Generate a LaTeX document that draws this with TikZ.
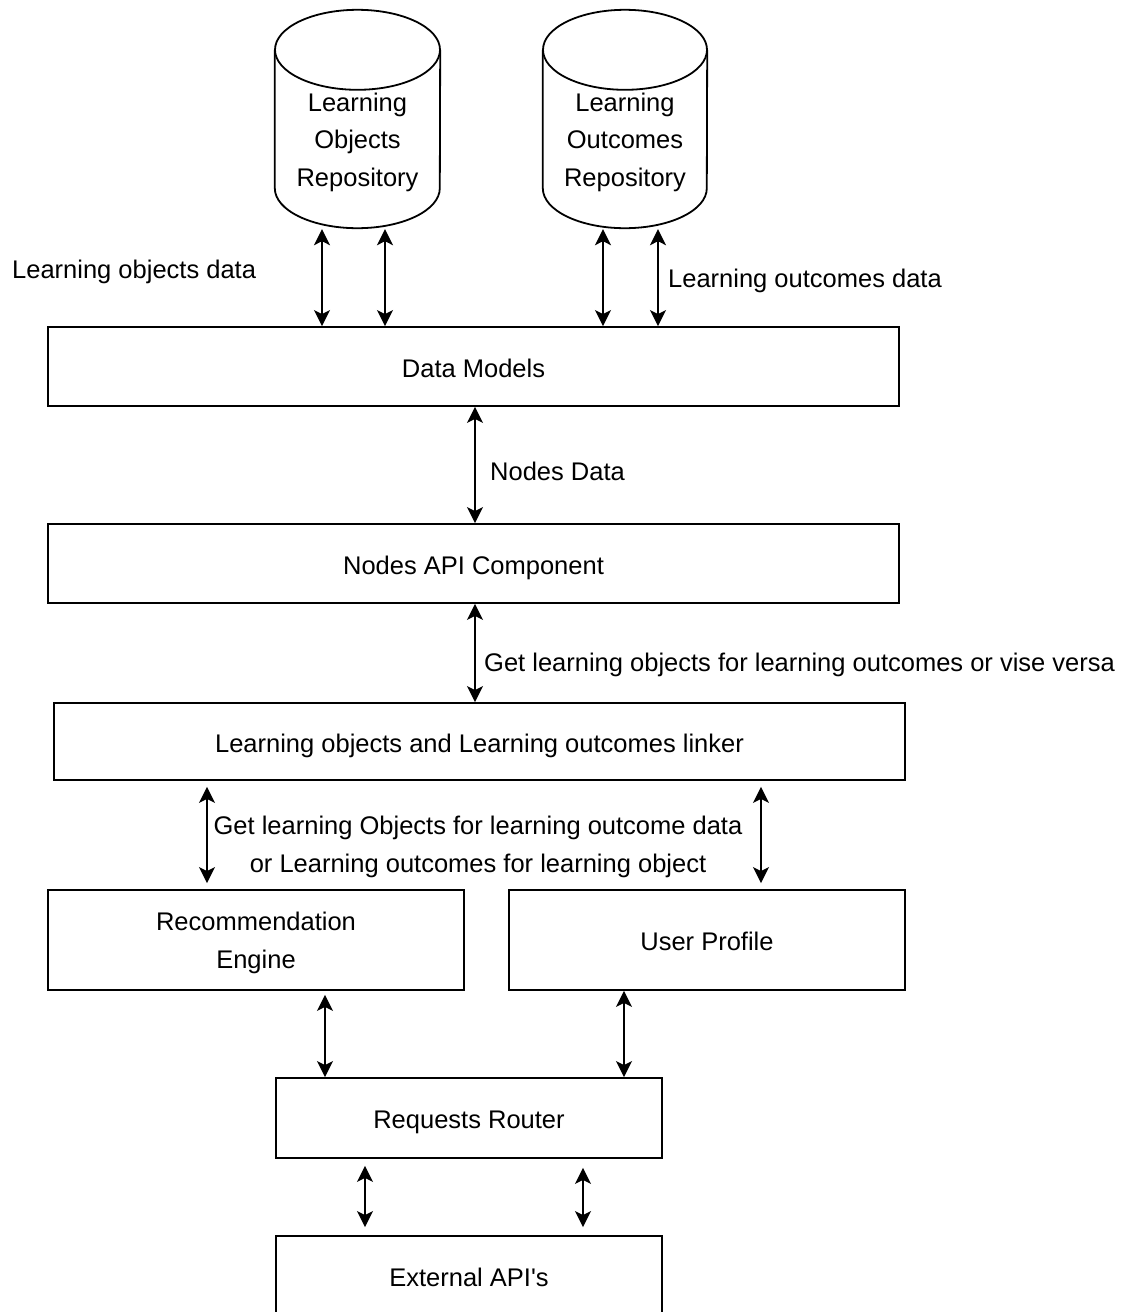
\documentclass[tikz,border=0pt]{standalone}
\usepackage{fontspec}
\setmainfont{Liberation Sans}
\usetikzlibrary{arrows.meta,calc}
\begin{document}
\begin{tikzpicture}[x=1pt,y=-1pt,
  font=\fontsize{25.5}{37.5}\selectfont,
  frame/.style={draw, line width=1.8pt, rectangle, inner sep=0pt, align=center},
  box/.style={frame, text height=23pt, text depth=2pt},
  cylbox/.style={rectangle, inner sep=0pt},
  cylline/.style={line width=1.8pt},
  lbl/.style={inner sep=0pt, align=center},
  biarrow/.style={{Stealth[length=16pt,width=16pt,inset=4pt]}-{Stealth[length=16pt,width=16pt,inset=4pt]}, line width=1.8pt}
]
\clip (0,0) rectangle (1128,1312);
\fill[white] (0,0) rectangle (1128,1312);

% repositories (cylinders)
\node[cylbox, minimum width=165pt, minimum height=218pt] (lor) at (357.5,119) {};
\node[lbl] (lortext) at ([yshift=-23pt]lor.center) {Learning\\Objects\\Repository};
\draw[cylline] ([yshift=-40pt]lor.north west) -- ([yshift=40pt]lor.south west)
  arc[start angle=180, end angle=360, x radius=82.5pt, y radius=40pt]
  -- ([yshift=-40pt]lor.north east);
\draw[cylline] ([yshift=-40pt]lor.north) ellipse[x radius=82.5pt, y radius=40pt];

\node[cylbox, minimum width=164pt, minimum height=218pt] (loc) at (625,119) {};
\node[lbl] (loctext) at ([yshift=-23pt]loc.center) {Learning\\Outcomes\\Repository};
\draw[cylline] ([yshift=-40pt]loc.north west) -- ([yshift=40pt]loc.south west)
  arc[start angle=180, end angle=360, x radius=82pt, y radius=40pt]
  -- ([yshift=-40pt]loc.north east);
\draw[cylline] ([yshift=-40pt]loc.north) ellipse[x radius=82pt, y radius=40pt];

% boxes
\node[box, minimum width=851pt, minimum height=79pt] (dm) at (473.5,366.5) {Data Models};
\node[box, minimum width=851pt, minimum height=79pt] (napi) at (473.5,563.5) {Nodes API Component};
\node[box, minimum width=851pt, minimum height=77pt] (linker) at (479.5,741.5) {Learning objects and Learning outcomes linker};
\node[frame, minimum width=416pt, minimum height=100pt] (rec) at (256,940) {};
\node[lbl] (rectext) at ([yshift=-3pt]rec.center) {Recommendation\\Engine};
\node[box, minimum width=396pt, minimum height=100pt] (up) at (707,940) {User Profile};
\node[box, minimum width=386pt, minimum height=80pt] (rr) at (469,1118) {Requests Router};
\node[box, minimum width=386pt, minimum height=80pt] (ext) at (469,1276) {External API\textquotesingle s};

% vertical guides for the connectors
\coordinate (g1) at (322,0);
\coordinate (g2) at (385,0);
\coordinate (g3) at (603,0);
\coordinate (g4) at (658,0);
\coordinate (g5) at (475,0);
\coordinate (g6) at (207,0);
\coordinate (g7) at (761,0);
\coordinate (g8) at (325,0);
\coordinate (g9) at (624,0);
\coordinate (g10) at (365,0);
\coordinate (g11) at (583,0);

% connectors
\draw[biarrow] ($(lor.south -| g1)+(0,1)$) -- (dm.north -| g1);
\draw[biarrow] ($(lor.south -| g2)+(0,1)$) -- (dm.north -| g2);
\draw[biarrow] ($(loc.south -| g3)+(0,1)$) -- (dm.north -| g3);
\draw[biarrow] ($(loc.south -| g4)+(0,1)$) -- (dm.north -| g4);
\draw[biarrow] (dm.south -| g5) -- (napi.north -| g5);
\draw[biarrow] (napi.south -| g5) -- (linker.north -| g5);
\draw[biarrow] ($(linker.south -| g6)+(0,6)$) -- ($(rec.north -| g6)+(0,-6)$);
\draw[biarrow] ($(linker.south -| g7)+(0,6)$) -- ($(up.north -| g7)+(0,-6)$);
\draw[biarrow] ($(rec.south -| g8)+(0,4)$) -- (rr.north -| g8);
\draw[biarrow] (up.south -| g9) -- (rr.north -| g9);
\draw[biarrow] ($(rr.south -| g10)+(0,7)$) -- ($(ext.north -| g10)+(0,-8)$);
\draw[biarrow] ($(rr.south -| g11)+(0,9)$) -- ($(ext.north -| g11)+(0,-8)$);

% connector labels
\node[lbl, anchor=west] (l1) at (12,272) {Learning objects data};
\node[lbl, anchor=west] (l2) at (668,281) {Learning outcomes data};
\node[lbl, anchor=west] (l3) at (490,471) {Nodes Data};
\node[lbl, anchor=west] (l4) at (484,665) {Get learning objects for learning outcomes or vise versa};
\node[lbl] (l5) at (478,847) {Get learning Objects for learning outcome data\\or Learning outcomes for learning object};
\end{tikzpicture}
\end{document}
